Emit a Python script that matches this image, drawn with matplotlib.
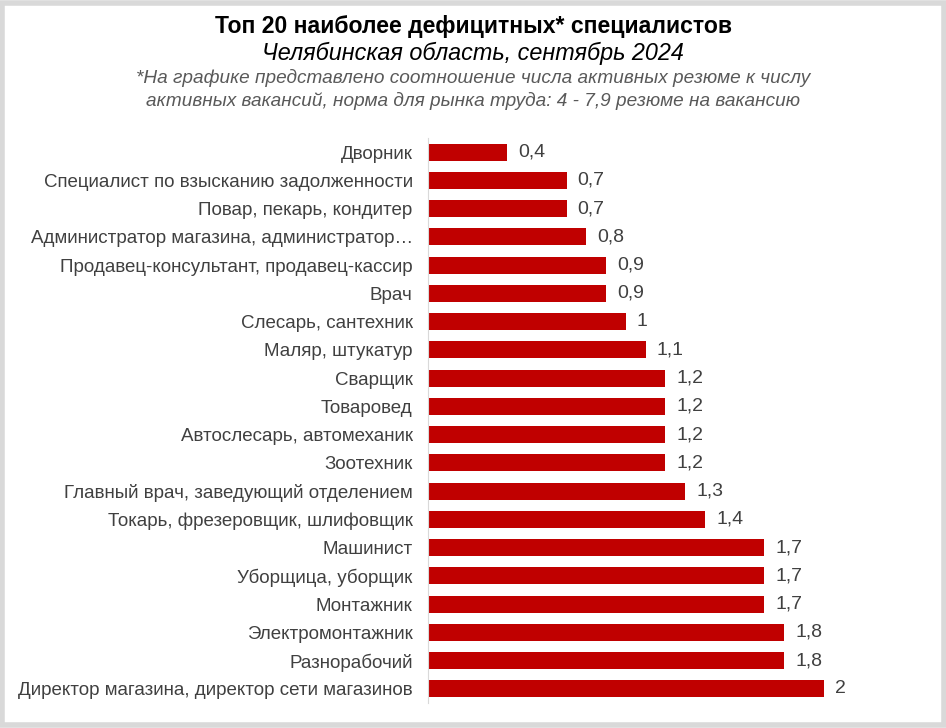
import matplotlib.pyplot as plt
from matplotlib.patches import Rectangle

plt.rcParams['font.family'] = ['Liberation Sans', 'DejaVu Sans']

# Data (top to bottom as shown on the chart)
professions = [
    'Дворник',
    'Специалист по взысканию задолженности',
    'Повар, пекарь, кондитер',
    'Администратор магазина, администратор…',
    'Продавец-консультант, продавец-кассир',
    'Врач',
    'Слесарь, сантехник',
    'Маляр, штукатур',
    'Сварщик',
    'Товаровед',
    'Автослесарь, автомеханик',
    'Зоотехник',
    'Главный врач, заведующий отделением',
    'Токарь, фрезеровщик, шлифовщик',
    'Машинист',
    'Уборщица, уборщик',
    'Монтажник',
    'Электромонтажник',
    'Разнорабочий',
    'Директор магазина, директор сети магазинов',
]
ratios = [0.4, 0.7, 0.7, 0.8, 0.9, 0.9, 1, 1.1, 1.2, 1.2,
          1.2, 1.2, 1.3, 1.4, 1.7, 1.7, 1.7, 1.8, 1.8, 2]

bar_color = '#C00000'
text_color = '#404040'

fig = plt.figure(figsize=(9.46, 7.28), dpi=100)
ax = fig.add_axes([0.4524, 0.0343, 0.50, 0.7761])

# Gray chart frame
fig.patches.append(Rectangle((0.002, 0.004), 0.996, 0.992, transform=fig.transFigure,
                             fill=False, edgecolor='#D9D9D9', linewidth=4))

y = list(range(len(professions)))
ax.barh(y, ratios, height=0.6, color=bar_color)
ax.set_ylim(len(professions) - 0.5, -0.5)
ax.set_xlim(0, 2.39)

ax.set_yticks(y)
ax.set_yticklabels(professions, fontsize=13.5, color=text_color)
ax.tick_params(axis='y', length=0, pad=11)
ax.set_xticks([])

for s in ['top', 'right', 'bottom']:
    ax.spines[s].set_visible(False)
ax.spines['left'].set_color('#D9D9D9')

# Value labels with comma decimals
for yi, v in zip(y, ratios):
    lbl = f'{v:g}'.replace('.', ',')
    ax.annotate(lbl, (v, yi), xytext=(8, 0), textcoords='offset points',
                va='center', ha='left', fontsize=14, color=text_color)

# Titles
fig.text(0.5, 1 - 27 / 728, 'Топ 20 наиболее дефицитных* специалистов',
         ha='center', va='center', fontsize=16.6, fontweight='bold', color='black')
fig.text(0.5, 1 - 53 / 728, 'Челябинская область, сентябрь 2024',
         ha='center', va='center', fontsize=16.8, fontstyle='italic', color='black')
fig.text(0.5, 1 - 78 / 728,
         '*На графике представлено соотношение числа активных резюме к числу',
         ha='center', va='center', fontsize=13.7, fontstyle='italic', color='#595959')
fig.text(0.5, 1 - 101 / 728,
         'активных вакансий, норма для рынка труда: 4 - 7,9 резюме на вакансию',
         ha='center', va='center', fontsize=13.7, fontstyle='italic', color='#595959')

plt.savefig('out.png', dpi=100)
